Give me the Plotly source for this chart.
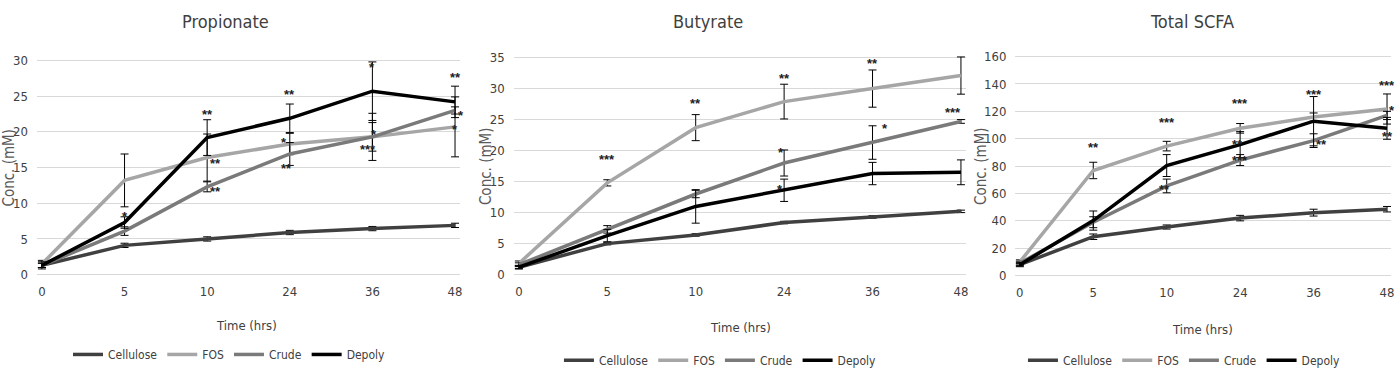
import plotly.graph_objects as go

W, H = 1400, 376
FONT = "Liberation Sans Narrow, DejaVu Sans Condensed, Arial Narrow, sans-serif"

times = ["0", "5", "10", "24", "36", "48"]
series_names = ["Cellulose", "FOS", "Crude", "Depoly"]
series_colors = ["#404040", "#a6a6a6", "#7a7a7a", "#000000"]

# Propionate
prop_cellulose = [1.3, 4.1, 5.0, 5.9, 6.45, 6.9]
prop_fos = [1.5, 13.2, 16.4, 18.3, 19.3, 20.7]
prop_crude = [1.3, 6.1, 12.3, 16.9, 19.3, 23.0]
prop_depoly = [1.3, 7.3, 19.2, 21.9, 25.7, 24.2]
prop_cellulose_err = [0.3, 0.3, 0.3, 0.3, 0.3, 0.3]
prop_fos_err = [0.5, 3.7, 3.3, 1.5, 2.0, 4.2]
prop_crude_err = [0.3, 0.6, 0.7, 1.6, 3.3, 0.5]
prop_depoly_err = [0.5, 0.8, 2.5, 2.0, 4.1, 2.2]

# Butyrate
but_cellulose = [1.2, 5.0, 6.4, 8.4, 9.3, 10.2]
but_fos = [1.8, 14.8, 23.7, 27.9, 30.0, 32.1]
but_crude = [1.6, 7.3, 13.0, 18.0, 21.3, 24.7]
but_depoly = [1.2, 6.3, 11.0, 13.6, 16.3, 16.5]
but_cellulose_err = [0.2, 0.2, 0.2, 0.2, 0.2, 0.2]
but_fos_err = [0.4, 0.5, 2.1, 2.8, 3.0, 3.0]
but_crude_err = [0.3, 0.6, 0.6, 2.1, 2.7, 0.3]
but_depoly_err = [0.3, 1.0, 2.7, 1.8, 1.8, 2.0]

# Total SCFA
tot_cellulose = [8.0, 28.4, 35.5, 42.0, 46.0, 48.5]
tot_fos = [10.0, 76.8, 94.6, 107.6, 115.8, 121.7]
tot_crude = [9.0, 39.0, 65.5, 84.4, 98.6, 117.0]
tot_depoly = [8.0, 40.2, 80.4, 95.7, 112.8, 107.6]
tot_cellulose_err = [1.0, 2.0, 1.5, 2.0, 2.5, 2.0]
tot_fos_err = [1.5, 6.0, 3.5, 3.5, 3.0, 11.0]
tot_crude_err = [1.5, 4.0, 5.0, 4.0, 5.0, 3.0]
tot_depoly_err = [1.5, 7.0, 8.0, 9.5, 18.0, 8.0]

# significance labels: (time, value, label, xshift)
prop_sig = [("5", 8.6, "*", 0), ("10", 22.8, "**", 0), ("10", 16.0, "**", 8),
            ("10", 12.0, "**", 8), ("24", 25.7, "**", 0), ("24", 19.0, "*", -6),
            ("24", 15.3, "**", -3), ("36", 29.4, "*", 0), ("36", 20.0, "*", 2),
            ("36", 18.0, "***", -4), ("48", 28.0, "**", 0), ("48", 22.7, "*", 6),
            ("48", 20.8, "*", 0)]
but_sig = [("5", 19.0, "***", 0), ("10", 28.1, "**", 0), ("24", 32.1, "**", 0),
           ("36", 34.6, "**", 0), ("48", 36.6, "**", 0), ("36", 24.1, "*", 12),
           ("48", 26.6, "***", -8), ("24", 20.2, "*", -3), ("24", 14.2, "*", -4)]
tot_sig = [("5", 95.7, "**", 0), ("10", 114.0, "***", 0), ("24", 128.0, "***", 0),
           ("36", 134.7, "***", 0), ("48", 141.0, "***", 0), ("48", 123.0, "*", 5),
           ("48", 104.0, "**", 0), ("36", 98.0, "**", 8), ("24", 98.0, "**", -3),
           ("24", 86.0, "***", 0), ("10", 65.0, "**", -2)]

panels = [
    dict(title="Propionate", ymax=30, dtick=5,
         data=[prop_cellulose, prop_fos, prop_crude, prop_depoly],
         err=[prop_cellulose_err, prop_fos_err, prop_crude_err, prop_depoly_err],
         sig=prop_sig, px=(42, 456), py=(277, 57), title_x=226, xt=(247, 329),
         yt_x=9, leg=(230, 359)),
    dict(title="Butyrate", ymax=35, dtick=5,
         data=[but_cellulose, but_fos, but_crude, but_depoly],
         err=[but_cellulose_err, but_fos_err, but_crude_err, but_depoly_err],
         sig=but_sig, px=(520, 963), py=(277, 54), title_x=710, xt=(742, 331),
         yt_x=487, leg=(722, 365)),
    dict(title="Total SCFA", ymax=160, dtick=20,
         data=[tot_cellulose, tot_fos, tot_crude, tot_depoly],
         err=[tot_cellulose_err, tot_fos_err, tot_crude_err, tot_depoly_err],
         sig=tot_sig, px=(1022, 1390), py=(278, 53), title_x=1195, xt=(1205, 333),
         yt_x=983, leg=(1187, 365)),
]

fig = go.Figure()
annotations = []
PADX = 0.06
layout = dict(width=W, height=H, margin=dict(l=0, r=0, t=0, b=0),
              paper_bgcolor="white", plot_bgcolor="white",
              font=dict(family=FONT, color="#595959", size=12))

for i, p in enumerate(panels):
    k = "" if i == 0 else str(i + 1)
    xa, ya = "x" + k, "y" + k
    legname = "legend" + k
    x0, x5 = p["px"]
    cw = (x5 - x0) / 5
    xdom = [(x0 - PADX * cw) / W, (x5 + PADX * cw) / W]
    yb, ytp = p["py"]
    unit = (yb - ytp) / p["ymax"]
    pady = 0.012 * p["ymax"]
    ydom = [(H - (yb + pady * unit)) / H, (H - (ytp - pady * unit)) / H]

    for name, color, vals, er in zip(series_names, series_colors, p["data"], p["err"]):
        fig.add_trace(go.Scatter(
            x=times, y=vals, mode="lines", name=name,
            line=dict(color=color, width=3.5),
            error_y=dict(type="data", array=er, visible=True, color="#000000",
                         thickness=1, width=4),
            xaxis=xa, yaxis=ya, legend=legname, showlegend=True))

    layout["xaxis" + k] = dict(domain=xdom, anchor=ya, type="category",
                               categoryorder="array", categoryarray=times,
                               range=[-PADX, 5 + PADX], showgrid=False,
                               showline=False, zeroline=False, ticks="",
                               tickfont=dict(size=13, color="#404040", family=FONT),
                               ticklabelstandoff=5)
    layout["yaxis" + k] = dict(domain=ydom, anchor=xa,
                               range=[-pady, p["ymax"] + pady], dtick=p["dtick"],
                               tick0=0, showgrid=True, gridcolor="#d9d9d9",
                               gridwidth=1, zeroline=False, showline=False,
                               ticks="", tickfont=dict(size=13, color="#404040", family=FONT),
                               ticklabelstandoff=8)
    lx, ly = p["leg"]
    layout[legname] = dict(orientation="h", x=lx / W, y=(H - ly) / H,
                           xanchor="center", yanchor="middle",
                           font=dict(size=12, color="#404040", family=FONT),
                           bgcolor="rgba(0,0,0,0)", itemwidth=30,
                           tracegroupgap=0)

    annotations.append(dict(text=p["title"], x=p["title_x"] / W, y=(H - 17) / H,
                            xref="paper", yref="paper", showarrow=False,
                            xanchor="center", yanchor="middle",
                            font=dict(size=18, color="#404040", family=FONT)))
    annotations.append(dict(text="Time (hrs)", x=p["xt"][0] / W, y=(H - p["xt"][1]) / H,
                            xref="paper", yref="paper", showarrow=False,
                            xanchor="center", yanchor="middle",
                            font=dict(size=13, color="#404040", family=FONT)))
    annotations.append(dict(text="Conc. (mM)", x=p["yt_x"] / W,
                            y=(H - (yb + ytp) / 2) / H, textangle=-90,
                            xref="paper", yref="paper", showarrow=False,
                            xanchor="center", yanchor="middle",
                            font=dict(size=15, color="#595959", family=FONT)))
    for t, v, lab, xs in p["sig"]:
        annotations.append(dict(text=lab, x=times.index(t), y=v, xref=xa, yref=ya,
                                showarrow=False, xshift=xs, yshift=-3,
                                xanchor="center", yanchor="middle",
                                font=dict(size=13, color="#222222",
                                          family="Liberation Sans, Arial, sans-serif",
                                          weight="bold")))

layout["annotations"] = annotations
fig.update_layout(**layout)
fig.write_html("out.html", config={"displayModeBar": False},
               post_script="document.body.style.margin='0';document.body.style.overflow='hidden';")
